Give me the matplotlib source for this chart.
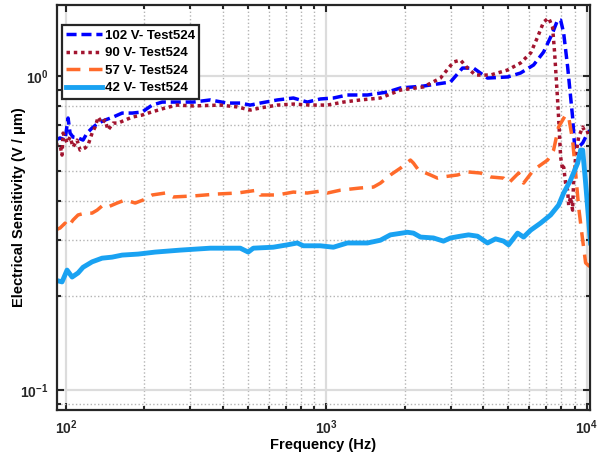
import matplotlib
matplotlib.use("Agg")
import matplotlib.pyplot as plt
from matplotlib.ticker import FixedLocator, FixedFormatter, LogLocator, NullFormatter

plt.rcParams['font.family'] = ['Liberation Sans', 'DejaVu Sans']
plt.rcParams['font.weight'] = 'bold'
plt.rcParams['mathtext.fontset'] = 'custom'
plt.rcParams['mathtext.rm'] = 'Liberation Sans:bold'
plt.rcParams['mathtext.it'] = 'Liberation Sans:bold'
plt.rcParams['mathtext.bf'] = 'Liberation Sans:bold'

# 102 V
f_102 = [90.7, 94.8, 99.1, 101.8, 103.6, 106.4, 111.2, 116.2, 120.4, 125.9, 132.8, 141.2,
         151.6, 164.2, 179.6, 196.0, 214.2, 234.1, 258, 308, 358, 416, 467, 510, 557, 648,
         747, 845, 948, 1064, 1204, 1438, 1717, 1926, 2360, 2999, 3334, 3673, 4160, 4970,
         5570, 6252, 6832, 7396, 7733, 7943, 8158, 8451, 8830, 8993, 9313, 9655, 10089, 10350]
s_102 = [0.625, 0.635, 0.625, 0.735, 0.658, 0.639, 0.635, 0.625, 0.658, 0.683, 0.708, 0.724,
         0.740, 0.762, 0.762, 0.768, 0.808, 0.826, 0.826, 0.826, 0.839, 0.820, 0.820, 0.808,
         0.820, 0.839, 0.851, 0.826, 0.845, 0.851, 0.870, 0.870, 0.889, 0.916, 0.929, 0.957,
         1.060, 1.060, 0.985, 0.993, 1.022, 1.084, 1.192, 1.371, 1.507, 1.507, 1.371, 1.07,
         0.740, 0.594, 0.594, 0.612, 0.658, 0.673]

# 90 V
f_90 = [90.7, 94.8, 96.5, 97.4, 100.9, 103.6, 106.4, 110.2, 113.2, 118.3, 121.5, 125.9,
        129.3, 132.8, 137.5, 141.2, 145.0, 151.6, 158.4, 168.6, 179.6, 196.0, 206.8, 225.9,
        240.3, 267, 308, 391, 455, 510, 557, 648, 747, 868, 1009, 1162, 1351, 1613, 1926,
        2360, 2744, 3078, 3275, 3486, 3741, 4271, 4970, 5570, 6095, 6481, 6832, 7145, 7396,
        7533, 7733, 7800, 7943, 8088, 8158, 8300, 8451, 8530, 8670, 8830, 8913, 9070, 9313,
        9655, 9910, 10178, 10350]
s_90 = [0.603, 0.603, 0.560, 0.658, 0.612, 0.639, 0.594, 0.625, 0.581, 0.590, 0.603, 0.658,
        0.688, 0.740, 0.708, 0.724, 0.673, 0.708, 0.708, 0.724, 0.740, 0.751, 0.762, 0.779,
        0.791, 0.808, 0.803, 0.808, 0.797, 0.779, 0.791, 0.808, 0.814, 0.808, 0.808, 0.826,
        0.839, 0.851, 0.902, 0.923, 0.985, 1.108, 1.124, 1.060, 1.007, 1.007, 1.045, 1.100,
        1.184, 1.331, 1.486, 1.530, 1.432, 1.184, 0.839, 0.740, 0.552, 0.502, 0.513, 0.456,
        0.433, 0.388, 0.412, 0.374, 0.466, 0.552, 0.639, 0.688, 0.658, 0.663, 0.683]

# 57 V
f_57 = [90.7, 94.8, 99.1, 101.8, 106.4, 111.2, 118.3, 125.9, 131.6, 138.7, 145.0, 157.1,
        168.6, 184.4, 197.8, 214.2, 240.3, 258, 308, 381, 455, 543, 557, 648, 747, 845, 948,
        1009, 1132, 1351, 1517, 1613, 1762, 1926, 2104, 2161, 2259, 2512, 2673, 2793, 3190,
        3486, 3909, 4271, 4797, 5012, 5477, 5725, 6252, 7079, 7464, 7800, 8300, 8530, 8830,
        9070, 9313, 9655, 9910, 10350]
s_57 = [0.323, 0.328, 0.340, 0.331, 0.348, 0.361, 0.366, 0.366, 0.374, 0.388, 0.383, 0.394,
        0.403, 0.394, 0.403, 0.418, 0.424, 0.412, 0.415, 0.421, 0.424, 0.433, 0.418, 0.418,
        0.427, 0.424, 0.430, 0.424, 0.433, 0.440, 0.443, 0.456, 0.484, 0.509, 0.540, 0.528,
        0.502, 0.484, 0.473, 0.477, 0.484, 0.495, 0.491, 0.477, 0.473, 0.456, 0.491, 0.456,
        0.502, 0.540, 0.581, 0.688, 0.751, 0.740, 0.625, 0.491, 0.383, 0.300, 0.254, 0.246]

# 42 V
f_42 = [90.7, 96.5, 100.9, 105.5, 111.2, 116.2, 125.9, 137.5, 150.3, 164.2, 189.3, 220.0,
        274.5, 358, 467, 501, 524, 625, 708, 773, 816, 948, 1064, 1204, 1438, 1613, 1762,
        2049, 2161, 2299, 2579, 2818, 2999, 3275, 3518, 3807, 4160, 4467, 4797, 5012, 5428,
        5725, 6095, 6650, 7270, 7800, 8158, 8670, 9234, 9480, 9655, 9910, 10350]
s_42 = [0.224, 0.221, 0.241, 0.229, 0.236, 0.246, 0.256, 0.263, 0.265, 0.269, 0.271, 0.275,
        0.279, 0.283, 0.283, 0.275, 0.283, 0.285, 0.290, 0.294, 0.288, 0.288, 0.285, 0.294,
        0.294, 0.300, 0.312, 0.318, 0.316, 0.307, 0.305, 0.298, 0.305, 0.309, 0.312, 0.309,
        0.294, 0.303, 0.298, 0.290, 0.316, 0.307, 0.323, 0.340, 0.361, 0.388, 0.424, 0.466,
        0.528, 0.581, 0.581, 0.456, 0.294]

fig = plt.figure(figsize=(5.97, 4.59), dpi=100)
ax = fig.add_axes([57/597, 1-410/459, 533/597, 405/459])

ax.plot(f_102, s_102, color='#0000FF', lw=2.5, linestyle=(0, (2.9, 1.4)),
        label='102 V- Test524')
ax.plot(f_90, s_90, color='#A2142F', lw=2.5, linestyle=(0, (1.0, 1.1)),
        dash_capstyle='butt', label='90 V- Test524')
ax.plot(f_57, s_57, color='#FF6A2A', lw=2.5, linestyle=(0, (4, 2.5)),
        label='57 V- Test524')
ax.plot(f_42, s_42, color='#19A2F2', lw=3.5, label='42 V- Test524')

ax.set_xscale('log')
ax.set_yscale('log')
ax.set_xlim(92.3, 10300)
ax.set_ylim(0.0864, 1.683)

ax.xaxis.set_major_locator(FixedLocator([100, 1000, 10000]))
ax.xaxis.set_major_formatter(FixedFormatter(['10$^{2}$', '10$^{3}$', '10$^{4}$']))
ax.yaxis.set_major_locator(FixedLocator([0.1, 1.0]))
ax.yaxis.set_major_formatter(FixedFormatter(['10$^{-1}$', '10$^{0}$']))
ax.xaxis.set_minor_locator(LogLocator(base=10, subs=range(2, 10)))
ax.yaxis.set_minor_locator(LogLocator(base=10, subs=range(2, 10)))
ax.xaxis.set_minor_formatter(NullFormatter())
ax.yaxis.set_minor_formatter(NullFormatter())

ax.grid(True, which='major', color='#dcdcdc', lw=1.6, linestyle='-')
ax.grid(True, which='minor', color='#b4b4b4', lw=1.0, linestyle=':')
ax.set_axisbelow(True)

ax.tick_params(which='both', direction='in', top=True, right=True, width=1.5,
               colors='#262626', labelsize=10, pad=6)
ax.tick_params(which='major', length=5)
ax.tick_params(which='minor', length=3)
for sp in ax.spines.values():
    sp.set_linewidth(1.6)
    sp.set_color('#262626')

ax.set_xlabel('Frequency (Hz)', fontsize=10.5, fontweight='bold', labelpad=1)
ax.set_ylabel('Electrical Sensitivity (V / μm)', fontsize=10.5, fontweight='bold')
ax.yaxis.set_label_coords(-0.058, 0.5)

leg = ax.legend(loc='upper left', bbox_to_anchor=(0.009, 0.951), borderaxespad=0,
                fancybox=False, edgecolor='#262626', framealpha=1, handlelength=2.7,
                handletextpad=0.2, prop={'weight': 'bold', 'size': 9.5},
                borderpad=0.35, labelspacing=0.4)
leg.get_frame().set_linewidth(1.6)

fig.savefig('out.png', dpi=100)
